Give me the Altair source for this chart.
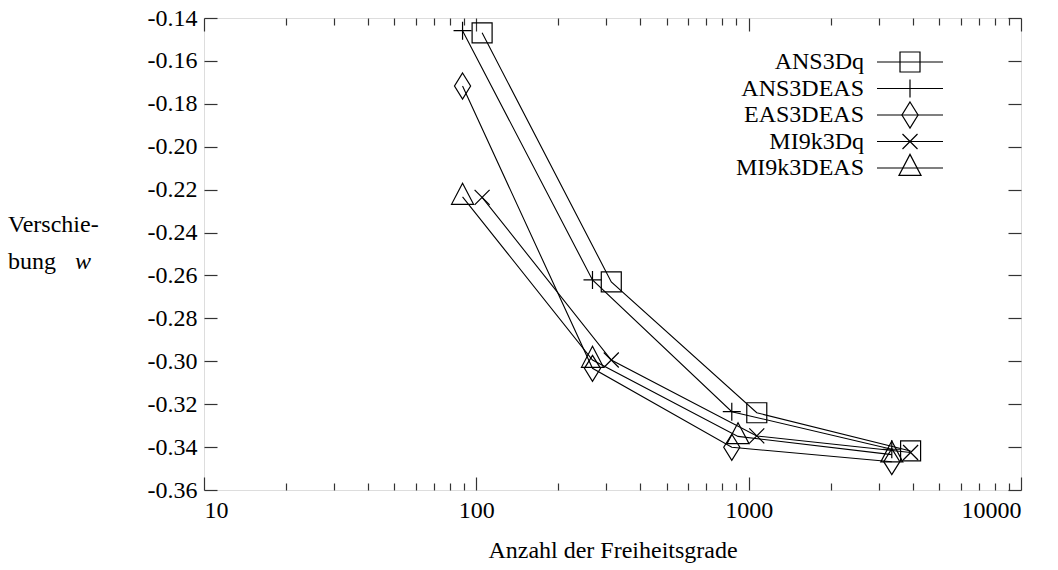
import altair as alt
import pandas as pd

# ---------------- data ----------------
series_names = ["ANS3Dq", "ANS3DEAS", "EAS3DEAS", "MI9k3Dq", "MI9k3DEAS"]

dof_ans3dq = [105, 313, 1071, 3932]
w_ans3dq = [-0.1469, -0.2630, -0.3240, -0.3418]

dof_ans3deas = [89, 267, 867, 3354]
w_ans3deas = [-0.1459, -0.2621, -0.3235, -0.3410]

dof_eas3deas = [89, 267, 867, 3354]
w_eas3deas = [-0.1717, -0.3033, -0.3401, -0.3468]

dof_mi9k3dq = [105, 313, 1071, 3932]
w_mi9k3dq = [-0.2236, -0.2994, -0.3348, -0.3425]

dof_mi9k3deas = [89, 267, 914, 3354]
w_mi9k3deas = [-0.2234, -0.2994, -0.3350, -0.3435]

x_major = [10, 100, 1000, 10000]
x_minor = [20, 30, 40, 50, 60, 70, 80, 90,
           200, 300, 400, 500, 600, 700, 800, 900,
           2000, 3000, 4000, 5000, 6000, 7000, 8000, 9000]
y_ticks = [-0.36, -0.34, -0.32, -0.30, -0.28, -0.26, -0.24,
           -0.22, -0.20, -0.18, -0.16, -0.14]

x_title = "Anzahl der Freiheitsgrade"
y_title_1 = "Verschie-"
y_title_2 = "bung"
y_title_3 = "w"

# ---------------- table ----------------
all_dofs = [dof_ans3dq, dof_ans3deas, dof_eas3deas, dof_mi9k3dq, dof_mi9k3deas]
all_ws = [w_ans3dq, w_ans3deas, w_eas3deas, w_mi9k3dq, w_mi9k3deas]
rows = []
for name, ds, ws in zip(series_names, all_dofs, all_ws):
    for d, w in zip(ds, ws):
        rows.append({"series": name, "dof": d, "w": w})
df = pd.DataFrame(rows)
one = pd.DataFrame({"k": [0]})

# ---------------- styles ----------------
W, H = 817, 472
FONT = "Liberation Serif"
FS = 24
BORDER = "#333333"

shape_paths = [
    "M-1,-1L1,-1L1,1L-1,1Z",               # square
    "M-1,0L1,0M0,-1L0,1",                  # plus
    "M0,-1L0.62,0L0,1L-0.62,0Z",           # diamond
    "M-1,-1L1,1M-1,1L1,-1",                # x
    "M0,-1.3L1.05,0.7L-1.05,0.7Z",         # triangle
]
shape_sizes = [400, 324, 676, 225, 441]

xscale = alt.Scale(type="log", domain=[10, 10000], nice=False)
yscale = alt.Scale(domain=[-0.36, -0.14], nice=False, zero=False)

label_expr_y = "'-' + format(abs(datum.value), '.2f')"


def tick_axis_x(orient, values, size):
    return alt.Axis(orient=orient, offset=-H, values=values, labels=False,
                    domain=False, grid=False, ticks=True, tickSize=size,
                    tickColor=BORDER, tickWidth=1.2, title=None)


def tick_axis_y(orient, size):
    return alt.Axis(orient=orient, offset=-W, values=y_ticks, labels=False,
                    domain=False, grid=False, ticks=True, tickSize=size,
                    tickColor=BORDER, tickWidth=1.2, title=None)


# Layer: lines with labelled axes
lines = alt.Chart(df).mark_line(color="black", strokeWidth=1.1).encode(
    x=alt.X("dof:Q", scale=xscale,
            axis=alt.Axis(orient="bottom", values=x_major, format="d",
                          ticks=False, tickSize=0, domain=False, grid=False,
                          labelPadding=8, labelFont=FONT, labelFontSize=FS,
                          labelColor="black", title=x_title, titleFont=FONT,
                          titleFontSize=FS, titleFontWeight="normal",
                          titleColor="black", titlePadding=16)),
    y=alt.Y("w:Q", scale=yscale,
            axis=alt.Axis(orient="left", values=y_ticks, labelExpr=label_expr_y,
                          ticks=False, tickSize=0, domain=False, grid=False,
                          labelPadding=7, labelFont=FONT, labelFontSize=FS,
                          labelColor="black", title=None)),
    detail="series:N",
)

# Inward ticks: bottom + left
ticks_bl = alt.Chart(df).mark_point(opacity=0).encode(
    x=alt.X("dof:Q", scale=xscale, axis=tick_axis_x("top", x_major, 13)),
    y=alt.Y("w:Q", scale=yscale, axis=tick_axis_y("right", 13)),
)
# Inward ticks: top + right
ticks_tr = alt.Chart(df).mark_point(opacity=0).encode(
    x=alt.X("dof:Q", scale=xscale, axis=tick_axis_x("bottom", x_major, 13)),
    y=alt.Y("w:Q", scale=yscale, axis=tick_axis_y("left", 13)),
)
# Minor x ticks
minor_b = alt.Chart(df).mark_point(opacity=0).encode(
    x=alt.X("dof:Q", scale=xscale, axis=tick_axis_x("top", x_minor, 7)),
    y=alt.Y("w:Q", scale=yscale, axis=None),
)
minor_t = alt.Chart(df).mark_point(opacity=0).encode(
    x=alt.X("dof:Q", scale=xscale, axis=tick_axis_x("bottom", x_minor, 7)),
    y=alt.Y("w:Q", scale=yscale, axis=None),
)

# Symbols, one layer per series
point_layers = []
for i, name in enumerate(series_names):
    point_layers.append(
        alt.Chart(df).transform_filter(alt.datum.series == name)
        .mark_point(filled=False, stroke="black", strokeWidth=1.2, opacity=1,
                    shape=shape_paths[i], size=shape_sizes[i])
        .encode(x=alt.X("dof:Q", scale=xscale, axis=None),
                y=alt.Y("w:Q", scale=yscale, axis=None))
    )

# Legend (drawn inside the plot like the original)
leg_layers = []
leg_y0, leg_dy = 44, 26.5
leg_text_x, leg_line_x1, leg_line_x2, leg_sym_x = 660, 673, 739, 706
for i, name in enumerate(series_names):
    yy = leg_y0 + i * leg_dy
    leg_layers.append(alt.Chart(one).mark_text(
        align="right", baseline="middle", font=FONT, fontSize=FS,
        color="black", text=name).encode(
        x=alt.value(leg_text_x), y=alt.value(yy)))
    leg_layers.append(alt.Chart(one).mark_rule(
        color="black", strokeWidth=1.1).encode(
        x=alt.value(leg_line_x1), x2=alt.value(leg_line_x2), y=alt.value(yy)))
    leg_layers.append(alt.Chart(one).mark_point(
        filled=False, stroke="black", strokeWidth=1.2, opacity=1,
        shape=shape_paths[i], size=shape_sizes[i]).encode(
        x=alt.value(leg_sym_x), y=alt.value(yy)))

# y title as horizontal text on the left
ytitle = [
    alt.Chart(one).mark_text(align="left", baseline="middle", font=FONT,
                             fontSize=FS, color="black", text=y_title_1).encode(
        x=alt.value(-196), y=alt.value(207)),
    alt.Chart(one).mark_text(align="left", baseline="middle", font=FONT,
                             fontSize=FS, color="black", text=y_title_2).encode(
        x=alt.value(-196), y=alt.value(244)),
    alt.Chart(one).mark_text(align="left", baseline="middle", font=FONT,
                             fontSize=FS, fontStyle="italic", color="black",
                             text=y_title_3).encode(
        x=alt.value(-129), y=alt.value(244)),
]

chart = alt.layer(lines, ticks_bl, ticks_tr, minor_b, minor_t, *point_layers,
                  *leg_layers, *ytitle).resolve_axis(
    x="independent", y="independent"
).properties(
    width=W, height=H,
    autosize=alt.AutoSizeParams(type="none"),
    padding={"left": 204, "top": 18, "right": 37, "bottom": 80},
).configure_view(
    stroke=BORDER, strokeWidth=1.4
).configure(background="white")

chart.save("out.html", embed_options={"renderer": "svg", "actions": False})
